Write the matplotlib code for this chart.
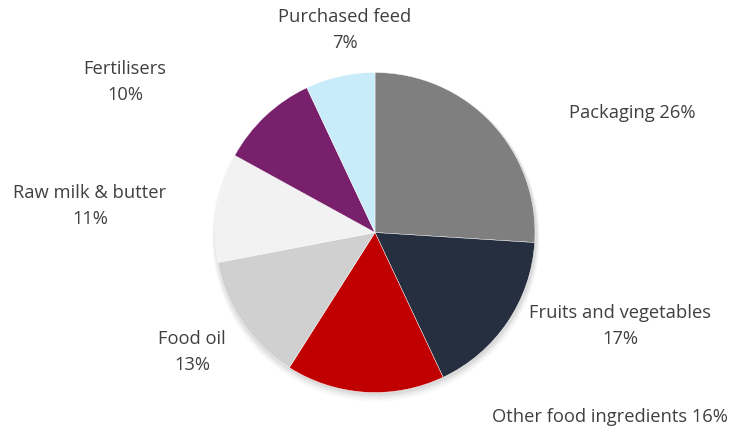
import matplotlib.pyplot as plt

# cost shares, clockwise from 12 o'clock
categories = ["Packaging", "Fruits and vegetables", "Other food ingredients",
              "Food oil", "Raw milk & butter", "Fertilisers", "Purchased feed"]
shares = [26, 17, 16, 13, 11, 10, 7]
colors = ["#7f7f7f", "#262f40", "#c00000", "#d0d0d0", "#f2f2f2", "#79206c", "#c9ecfa"]

# label placement in pixel space (x, y from top) and whether text sits on one line
label_pos = [(632, 113), (620, 326), (610, 417), (192, 352), (90, 206), (125, 82), (345, 30)]
one_line = [True, False, True, False, False, False, False]

W, H = 731, 431
fig = plt.figure(figsize=(W / 100, H / 100), dpi=100)
ax = fig.add_axes([0, 0, 1, 1])

cx, cy, r = 375, H - 233.5, 160

# soft shadow under the pie
for i, a in enumerate([0.05, 0.04, 0.03, 0.02]):
    sh = plt.Circle((cx + 1, cy - 2 - i), r + 1 + i, color="black", alpha=a, lw=0)
    ax.add_patch(sh)

ax.pie(shares, colors=colors, startangle=90, counterclock=False,
       center=(cx, cy), radius=r, frame=True,
       wedgeprops=dict(linewidth=0.3, edgecolor="white"))
ax.set_xlim(0, W)
ax.set_ylim(0, H)
ax.set_aspect("equal")
ax.axis("off")

for name, val, (x, y), single in zip(categories, shares, label_pos, one_line):
    sep = " " if single else "\n"
    ax.text(x, H - y, f"{name}{sep}{val}%", ha="center", va="center",
            fontsize=13.2, color="#404040", family="Open Sans", linespacing=1.55)

fig.savefig("out.png", dpi=100)
